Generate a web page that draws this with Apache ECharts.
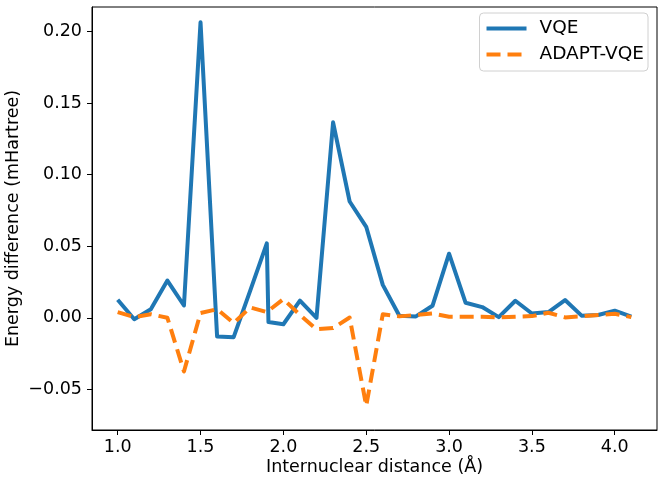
<!DOCTYPE html>
<html>
<head>
<meta charset="utf-8">
<script src="https://cdn.jsdelivr.net/npm/echarts@6/dist/echarts.min.js"></script>
<style>
html,body{margin:0;padding:0;background:#fff;}
#chart{width:661px;height:480px;}
</style>
</head>
<body>
<div id="chart"></div>
<script>
var distance = [1.0,1.1,1.2,1.3,1.4,1.5,1.6,1.7,1.8,1.9,1.91,2.0,2.1,2.2,2.3,2.4,2.5,2.6,2.7,2.8,2.9,3.0,3.1,3.2,3.3,3.4,3.5,3.6,3.7,3.8,3.9,4.0,4.1];
var vqe = [0.0126,-0.001,0.006,0.026,0.0086,0.2065,-0.013,-0.0135,0.019,0.052,-0.003,-0.0045,0.012,0.0,0.1366,0.0813,0.0636,0.023,0.0014,0.001,0.0084,0.0448,0.0105,0.0075,0.0005,0.0119,0.003,0.004,0.0124,0.0015,0.002,0.005,0.0009];
var adapt = [0.004,0.0005,0.0025,0.0,-0.0375,0.0033,0.006,-0.0037,0.0073,0.004,0.004,0.013,0.002,-0.008,-0.0072,0.0002,-0.0615,0.0025,0.001,0.002,0.003,0.0008,0.0008,0.0008,0.0003,0.0008,0.0012,0.0035,0.0003,0.001,0.002,0.0028,0.0005];
var xTicks = [1.0,1.5,2.0,2.5,3.0,3.5,4.0];
var yTicks = [-0.05,0.0,0.05,0.10,0.15,0.20];
var seriesNames = ['VQE','ADAPT-VQE'];
var colors = ['#1f77b4','#ff7f0e'];

function pairs(xs, ys){ return xs.map(function(x,i){ return [x, ys[i]]; }); }

var font = 'DejaVu Sans';
var fs = 17.5;
var dash = [14,7];
var chart = echarts.init(document.getElementById('chart'), null, {renderer:'canvas'});
chart.setOption({
  animation:false,
  backgroundColor:'#fff',
  textStyle:{fontFamily:font},
  grid:{left:92,right:4,top:7,bottom:50,containLabel:false,outerBoundsMode:'none',show:true,borderColor:'#000',borderWidth:1,backgroundColor:'transparent'},
  legend:{
    orient:'vertical', right:13, top:13,
    data:[
      {name:seriesNames[0], itemStyle:{opacity:0}, lineStyle:{color:colors[0],width:4,type:'solid'}},
      {name:seriesNames[1], itemStyle:{opacity:0}, lineStyle:{color:colors[1],width:4,type:dash}}
    ],
    itemWidth:40, itemHeight:14, itemGap:7,
    padding:[6,4,7,5],
    backgroundColor:'#fff', borderColor:'#d0d0d0', borderWidth:1, borderRadius:4,
    textStyle:{fontFamily:font,fontSize:18.5,color:'#000',padding:[0,0,0,8]}
  },
  xAxis:{
    type:'value', min:0.845, max:4.255,
    name:'Internuclear distance (Å)', nameLocation:'middle', nameGap:28, nameMoveOverlap:false,
    nameTextStyle:{fontFamily:font,fontSize:fs,color:'#000'},
    axisLine:{show:true,onZero:false,lineStyle:{color:'#000',width:1}},
    axisTick:{show:true,inside:false,length:5,customValues:xTicks,lineStyle:{color:'#000',width:1}},
    axisLabel:{customValues:xTicks,margin:8,fontFamily:font,fontSize:fs,color:'#000',formatter:function(v){return v.toFixed(1);}},
    splitLine:{show:false}
  },
  yAxis:{
    type:'value', min:-0.0784, max:0.2172,
    name:'Energy difference (mHartree)', nameLocation:'middle', nameGap:70, nameRotate:90, nameMoveOverlap:false,
    nameTextStyle:{fontFamily:font,fontSize:fs,color:'#000'},
    axisLine:{show:true,onZero:false,lineStyle:{color:'#000',width:1}},
    axisTick:{show:true,inside:false,length:5,customValues:yTicks,lineStyle:{color:'#000',width:1}},
    axisLabel:{customValues:yTicks,margin:10,fontFamily:font,fontSize:fs,color:'#000',formatter:function(v){var s=Math.abs(v).toFixed(2);return (v< -1e-9?'\u2212':'')+s;}},
    splitLine:{show:false}
  },
  series:[
    {name:seriesNames[0],type:'line',data:pairs(distance,vqe),symbol:'none',
     lineStyle:{color:colors[0],width:4,cap:'butt',join:'round'},itemStyle:{color:colors[0]}},
    {name:seriesNames[1],type:'line',data:pairs(distance,adapt),symbol:'none',
     lineStyle:{color:colors[1],width:4,type:dash,cap:'butt',join:'round'},itemStyle:{color:colors[1]}}
  ]
});
</script>
</body>
</html>
